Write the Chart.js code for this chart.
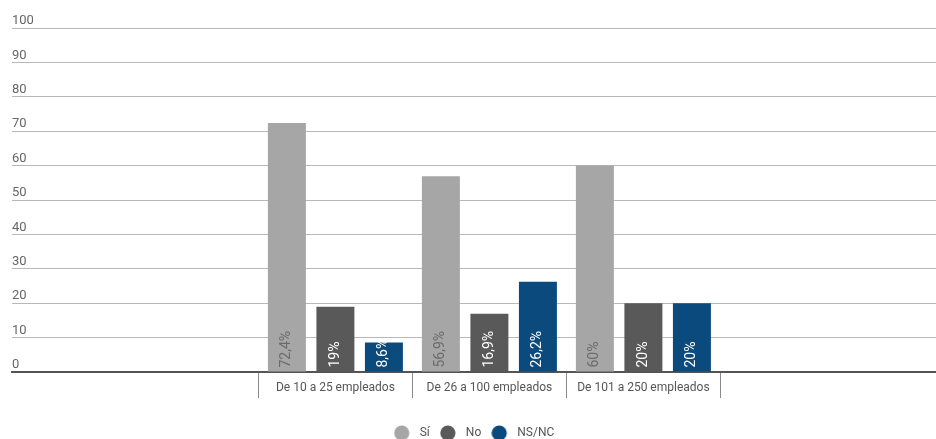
<!DOCTYPE html>
<html>
<head>
<meta charset="utf-8">
<script src="https://cdn.jsdelivr.net/npm/chart.js@4"></script>
<style>
  html, body { margin: 0; padding: 0; background: #fff; }
  #wrap { width: 936px; height: 439px; }
</style>
</head>
<body>
<div id="wrap"><canvas id="grafico"></canvas></div>
<script>
const categorias = ['De 10 a 25 empleados', 'De 26 a 100 empleados', 'De 101 a 250 empleados'];
const series = ['Sí', 'No', 'NS/NC'];
const valoresSi = [72.4, 56.9, 60];
const valoresNo = [19, 16.9, 20];
const valoresNsNc = [8.6, 26.2, 20];
const colores = ['#a6a6a6', '#595959', '#0b4a7c'];
const coloresTexto = ['#6b6b6b', '#ffffff', '#ffffff'];
const ticksY = [0, 10, 20, 30, 40, 50, 60, 70, 80, 90, 100];

const comoPuntos = valores => valores.map((v, i) => ({ x: i, y: v }));

// circulitos de la leyenda, pegados a la izquierda de su caja
const circuloLeyenda = color => {
  const c = document.createElement('canvas');
  c.width = 20;
  c.height = 16;
  const g = c.getContext('2d');
  g.fillStyle = color;
  g.beginPath();
  g.arc(8, 8, 7.6, 0, Math.PI * 2);
  g.fill();
  return c;
};

// porcentajes escritos en vertical dentro de cada barra
const etiquetasBarras = {
  id: 'etiquetasBarras',
  afterDatasetsDraw(chart) {
    const ctx = chart.ctx;
    chart.data.datasets.forEach((ds, i) => {
      chart.getDatasetMeta(i).data.forEach((barra, j) => {
        const texto = String(ds.data[j].y).replace('.', ',') + '%';
        ctx.save();
        ctx.translate(barra.x, barra.base - 4);
        ctx.rotate(-Math.PI / 2);
        ctx.font = '14px Roboto';
        ctx.fillStyle = coloresTexto[i];
        ctx.textAlign = 'left';
        ctx.textBaseline = 'middle';
        ctx.fillText(texto, 0, 0);
        ctx.restore();
      });
    });
  }
};

const dataBarras = {
  datasets: [valoresSi, valoresNo, valoresNsNc].map((valores, i) => ({
    label: series[i],
    data: comoPuntos(valores),
    backgroundColor: colores[i],
    categoryPercentage: 0.945,
    barPercentage: 0.783
  }))
};

const config = {
  type: 'bar',
  data: dataBarras,
  plugins: [etiquetasBarras],
  options: {
    responsive: true,
    maintainAspectRatio: false,
    animation: false,
    layout: { padding: { left: 12, right: 0, top: 28, bottom: -10 } },
    scales: {
      x: {
        type: 'linear',
        min: -2.1,
        max: 3.9,
        offset: false,
        afterBuildTicks: escala => {
          escala.ticks = categorias.map((c, i) => ({ value: i }));
        },
        afterFit: escala => { escala.height = 45; },
        grid: {
          offset: true,
          drawOnChartArea: false,
          drawTicks: true,
          tickLength: 26,
          color: '#8a8a8a'
        },
        border: { display: true, color: '#555555', width: 2 },
        ticks: {
          autoSkip: false,
          maxRotation: 0,
          padding: -17,
          color: '#555555',
          font: { family: 'Roboto', size: 12 },
          callback: v => categorias[v]
        }
      },
      y: {
        min: 0,
        max: 100,
        afterBuildTicks: escala => {
          escala.ticks = ticksY.map(v => ({ value: v }));
        },
        grid: { color: '#b8b8b8', drawTicks: false },
        border: { display: false },
        ticks: {
          mirror: true,
          padding: 0,
          labelOffset: -7,
          color: '#666666',
          font: { family: 'Roboto', size: 13 }
        }
      }
    },
    plugins: {
      tooltip: { enabled: false },
      legend: {
        position: 'bottom',
        labels: {
          usePointStyle: true,
          pointStyleWidth: 20,
          boxHeight: 12,
          padding: 10,
          color: '#555555',
          font: { family: 'Roboto', size: 12 },
          generateLabels: chart =>
            Chart.defaults.plugins.legend.labels.generateLabels(chart).map((item, i) => ({
              ...item,
              pointStyle: circuloLeyenda(colores[i])
            }))
        }
      }
    }
  }
};

const grafico = new Chart(document.getElementById('grafico'), config);
</script>
</body>
</html>
